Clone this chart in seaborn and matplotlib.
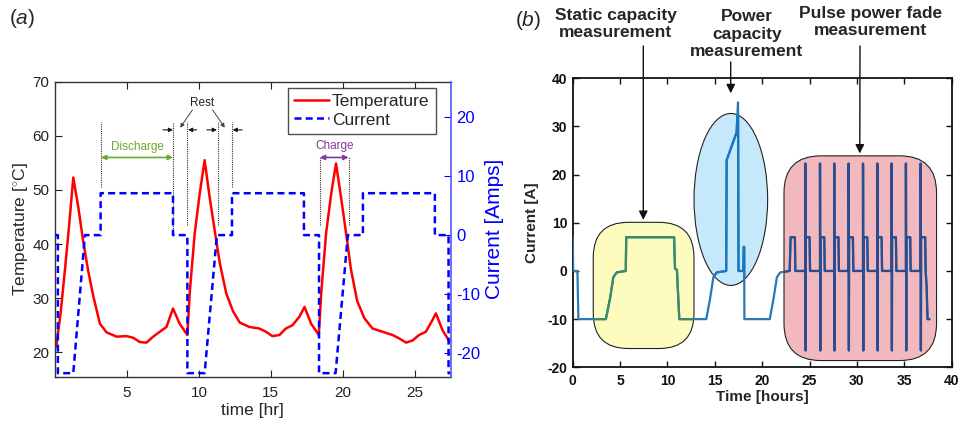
import matplotlib
matplotlib.use("Agg")
import matplotlib.pyplot as plt
import seaborn as sns
from matplotlib.patches import FancyBboxPatch, Ellipse
from matplotlib.lines import Line2D

# ---------------- data: panel (a) ----------------
temp_time = [0.05, 0.1, 0.4, 0.7, 1.0, 1.27, 1.62, 1.96, 2.31, 2.66, 3.12, 3.58, 4.28, 4.97,
             5.43, 5.9, 6.36, 6.82, 7.28, 7.75, 8.2, 8.66, 9.2, 9.36, 9.71, 10.06, 10.4,
             10.75, 11.1, 11.45, 11.91, 12.37, 12.84, 13.5, 14.2, 14.67, 15.1, 15.6, 16.04,
             16.5, 16.99, 17.34, 17.8, 18.33, 18.5, 18.84, 19.2, 19.53, 19.88, 20.23, 20.57,
             21.0, 21.5, 22.07, 22.77, 23.46, 23.9, 24.4, 24.85, 25.3, 25.77, 26.24, 26.47,
             26.93, 27.44]
temp_vals = [21.0, 21.3, 27.5, 35.5, 44.0, 52.3, 46.8, 40.5, 35.0, 30.4, 25.3, 23.7, 22.9, 23.0,
             22.7, 21.9, 21.8, 22.9, 23.8, 24.7, 28.1, 25.3, 23.2, 30.9, 42.0, 49.4, 55.5,
             48.6, 42.5, 36.5, 30.8, 27.6, 25.5, 24.7, 24.4, 23.8, 23.0, 23.2, 24.4,
             25.0, 26.6, 28.4, 25.3, 23.2, 30.9, 42.0, 49.4, 54.9, 48.6, 42.0, 35.3,
             29.5, 26.3, 24.4, 23.8, 23.2, 22.6, 21.8, 22.2, 23.2, 23.8, 26.0, 27.2,
             24.1, 21.9]
cur_a_time = [0.0, 0.2, 0.2, 1.27, 2.08, 3.17, 3.17, 8.2, 8.2, 9.2, 9.2, 10.4, 11.25, 12.3,
              12.3, 17.3, 17.3, 18.35, 18.35, 19.5, 20.35, 21.4, 21.4, 26.4, 26.4, 27.35,
              27.35, 27.5]
cur_a_vals = [0.0, 0.0, -23.4, -23.4, 0.0, 0.0, 7.1, 7.1, 0.0, 0.0, -23.4, -23.4, 0.0, 0.0,
              7.1, 7.1, 0.0, 0.0, -23.4, -23.4, 0.0, 0.0, 7.1, 7.1, 0.0, 0.0,
              -23.4, -23.4]
a_xticks = [5, 10, 15, 20, 25]
a_yticks = [20, 30, 40, 50, 60, 70]
a_y2ticks = [-20, -10, 0, 10, 20]

# ---------------- data: panel (b) ----------------
cur_b_time = [0.0, 0.05, 0.5, 0.6, 3.5, 3.94, 4.29, 4.64, 5.6, 5.65, 10.7, 10.8, 11.0, 11.25,
              14.1, 14.5, 14.85, 15.2, 16.2, 16.25, 17.3, 17.45, 17.5, 18.0, 18.05, 18.1,
              18.12, 20.8, 21.2, 21.55, 21.9, 22.9, 23.0, 23.45, 23.5]
cur_b_vals = [7.0, 0.0, 0.0, -10.0, -10.0, -5.7, -1.3, -0.3, 0.0, 7.0, 7.0, 0.5, 0.2, -10.0,
              -10.0, -5.7, -1.3, -0.3, 0.0, 23.0, 28.8, 35.0, 0.0, 0.0, 5.0, 5.0,
              -10.0, -10.0, -5.7, -1.3, -0.3, 0.0, 7.0, 7.0, 0.0]
pulse_times = [24.55, 26.1, 27.6, 29.12, 30.64, 32.15, 33.66, 35.17, 36.72]
pulse_high, pulse_low, pulse_level, pulse_width = 22.3, -16.5, 7.0, 0.45
tail_time = [37.2, 37.25, 37.35, 37.45, 37.65]
tail_vals = [7.0, 0.0, -3.0, -10.0, -10.0]

t_b, i_b = list(cur_b_time), list(cur_b_vals)
for ts in pulse_times:
    t_b += [ts, ts, ts + 0.03, ts + 0.05]
    i_b += [0.0, pulse_high, pulse_low, pulse_level]
    if ts != pulse_times[-1]:
        t_b += [ts + pulse_width, ts + pulse_width + 0.05]
        i_b += [pulse_level, 0.0]
t_b += tail_time
i_b += tail_vals

# ---------------- style ----------------
sns.set_style("ticks")
plt.rcParams['font.family'] = ['Liberation Sans', 'DejaVu Sans']
plt.rcParams['mathtext.fontset'] = 'custom'
plt.rcParams['mathtext.rm'] = 'Liberation Sans'
plt.rcParams['mathtext.it'] = 'Liberation Sans:italic'
plt.rcParams['axes.unicode_minus'] = False

W, H = 961, 425
fig = plt.figure(figsize=(W / 100, H / 100), dpi=100)

def fx(px):
    return px / W

def fy(py):
    return 1 - py / H

# ================= panel (a) =================
ax = fig.add_axes([fx(55), fy(376.7), fx(450.7) - fx(55), fy(81.7) - fy(376.7)])
ax2 = ax.twinx()
BLUE = '#0000ff'
sns.lineplot(x=temp_time, y=temp_vals, color='#ff0000', lw=1.8, sort=False,
             estimator=None, ax=ax)
sns.lineplot(x=cur_a_time, y=cur_a_vals, color=BLUE, lw=1.8, sort=False,
             estimator=None, ax=ax2)
blue_line = ax2.lines[-1]
blue_line.set_dashes([2.8, 1.7])

ax.set_xlim(0, 27.5)
ax.set_ylim(15.5, 70)
ax2.set_ylim(-24, 26)
ax.set_xticks(a_xticks)
ax.set_yticks(a_yticks)
ax2.set_yticks(a_y2ticks)
ax.tick_params(direction='in', top=True, right=False, length=5, width=0.8,
               labelsize=11, colors='#222222')
ax.tick_params(axis='x', pad=7)
ax.tick_params(axis='y', pad=4)
ax2.tick_params(direction='in', length=5, width=0.8, labelsize=12, colors=BLUE, pad=4)
for s in ['left', 'bottom', 'top']:
    ax.spines[s].set_color('#333333')
    ax.spines[s].set_linewidth(1.0)
ax2.spines['right'].set_color('#5555ff')
ax2.spines['right'].set_linewidth(1.2)
for s in ['left', 'bottom', 'top']:
    ax2.spines[s].set_visible(False)
ax.spines['right'].set_visible(False)

ax.set_xlabel('time [hr]', fontsize=12.5, labelpad=2)
ax.set_ylabel(r'Temperature [$^{\circ}$C]', fontsize=12.5, labelpad=2)
ax2.set_ylabel('Current [Amps]', fontsize=15, color=BLUE, labelpad=3)

handles = [Line2D([], [], color='#ff0000', lw=1.8),
           Line2D([], [], color=BLUE, lw=1.8, dashes=[2.8, 1.7])]
leg = ax2.legend(handles, ['Temperature', 'Current'], loc='upper right',
                 bbox_to_anchor=((435.7 - 55) / 395.7, (376.7 - 87.7) / 295),
                 borderaxespad=0, fontsize=12.5, frameon=True, fancybox=False,
                 edgecolor='#222222', handlelength=2.0, handletextpad=0.2,
                 borderpad=0.35, labelspacing=0.2)
leg.get_frame().set_linewidth(1.0)

# annotations in panel (a)
dotted_lines = [(3.2, 50.6, 62.6), (8.2, 42.0, 62.6), (9.2, 43.5, 62.6), (11.3, 43.5, 62.6),
                (12.3, 50.6, 62.6), (18.4, 43.5, 56.1), (20.4, 43.5, 56.1)]
for xv, y0, y1 in dotted_lines:
    ax.plot([xv, xv], [y0, y1], ls=(0, (1, 1)), color='#333333', lw=0.8)

GREEN = '#6aa82e'
PURPLE = '#7d3c98'
ax.annotate('', xy=(8.2, 56), xytext=(3.2, 56),
            arrowprops=dict(arrowstyle='<|-|>', color=GREEN, lw=1.2, shrinkA=0, shrinkB=0,
                            mutation_scale=7))
ax.text(5.75, 58.0, 'Discharge', color=GREEN, fontsize=8.5, ha='center', va='center')
ax.annotate('', xy=(20.4, 56), xytext=(18.4, 56),
            arrowprops=dict(arrowstyle='<|-|>', color=PURPLE, lw=1.2, shrinkA=0, shrinkB=0,
                            mutation_scale=7))
ax.text(19.42, 58.1, 'Charge', color=PURPLE, fontsize=8.5, ha='center', va='center')
ax.text(10.25, 66.0, 'Rest', color='#222222', fontsize=8.5, ha='center', va='center')
for tip, tail in [((8.7, 61.5), (9.55, 64.8)), ((11.8, 61.5), (10.95, 64.8))]:
    ax.annotate('', xy=tip, xytext=tail,
                arrowprops=dict(arrowstyle='-|>', color='#444444', lw=0.7, shrinkA=0,
                                shrinkB=0, mutation_scale=6))
for tip, tail in [((8.2, 61.1), (7.5, 61.1)), ((9.25, 61.1), (9.85, 61.1)),
                  ((11.25, 61.1), (10.55, 61.1)), ((12.35, 61.1), (13.0, 61.1))]:
    ax.annotate('', xy=tip, xytext=tail,
                arrowprops=dict(arrowstyle='-|>', color='#111111', lw=0.8, shrinkA=0,
                                shrinkB=0, mutation_scale=6))

fig.text(fx(22), fy(18), r'($\mathit{a}$)', fontsize=15, ha='center', va='center')

# ================= panel (b) =================
bx = fig.add_axes([fx(572.7), fy(367.3), fx(951.7) - fx(572.7), fy(78.3) - fy(367.3)])
bx.set_xlim(0, 40)
bx.set_ylim(-20, 40)
aspect = (60 / 289) / (40 / 379)   # data-y per px / data-x per px

yellow = FancyBboxPatch((2.17, -16.1), 10.63, 26.2,
                        boxstyle="round,pad=0,rounding_size=3.7",
                        mutation_aspect=aspect, facecolor='#fdfcbe', edgecolor='#222222',
                        lw=0.8, zorder=1, transform=bx.transData)
pink = FancyBboxPatch((22.3, -18.6), 16.1, 42.5,
                      boxstyle="round,pad=0,rounding_size=3.9",
                      mutation_aspect=aspect, facecolor='#f1b9bd', edgecolor='#222222',
                      lw=0.8, zorder=1, transform=bx.transData)
blue_ell = Ellipse((16.69, 14.85), 7.77, 35.7, facecolor='#c5e9fa', edgecolor='#222222',
                   lw=0.8, zorder=1, transform=bx.transData)
for p in (yellow, pink, blue_ell):
    bx.add_patch(p)

sns.lineplot(x=t_b, y=i_b, color='#2678b6', lw=1.6, sort=False, estimator=None, ax=bx)
bx.lines[-1].set_zorder(3)
for patch, col in [(yellow, '#3a8c64'), (pink, '#2d4b8f'), (blue_ell, '#1a78c2')]:
    sns.lineplot(x=t_b, y=i_b, color=col, lw=1.6, sort=False, estimator=None, ax=bx)
    ln = bx.lines[-1]
    ln.set_zorder(3.5)
    ln.set_clip_path(patch)

bx.set_xticks(range(0, 41, 5))
bx.set_yticks(range(-20, 41, 10))
bx.tick_params(direction='in', top=True, right=True, length=4, width=1.0, labelsize=10,
               colors='#111111')
bx.tick_params(axis='x', pad=5)
bx.tick_params(axis='y', pad=4)
for lab in bx.get_xticklabels() + bx.get_yticklabels():
    lab.set_fontweight('bold')
for s in bx.spines.values():
    s.set_color('#111111')
    s.set_linewidth(1.3)
bx.set_xlabel('Time [hours]', fontsize=11, fontweight='bold', labelpad=1)
bx.set_ylabel('Current [A]', fontsize=11, fontweight='bold', labelpad=6)

fig.text(fx(616), fy(24), 'Static capacity\nmeasurement', fontsize=12.5, fontweight='bold',
         ha='center', va='center', linespacing=1.2)
fig.text(fx(746.7), fy(34), 'Power\ncapacity\nmeasurement', fontsize=12.5,
         fontweight='bold', ha='center', va='center', linespacing=1.2)
fig.text(fx(870.5), fy(22), 'Pulse power fade\nmeasurement', fontsize=12.5,
         fontweight='bold', ha='center', va='center', linespacing=1.2)
for tip, (px, py) in [((7.45, 10.6), (643.3, 46)), ((16.68, 36.9), (730.7, 62)),
                      ((30.3, 24.4), (860, 46))]:
    bx.annotate('', xy=tip, xytext=(fx(px), fy(py)), textcoords='figure fraction',
                arrowprops=dict(arrowstyle='-|>', color='#111111', lw=1.0, shrinkA=0,
                                shrinkB=0, mutation_scale=13), zorder=5)

fig.text(fx(528.3), fy(20), r'($\mathit{b}$)', fontsize=15, ha='center', va='center')

fig.savefig('out.png', dpi=100)
